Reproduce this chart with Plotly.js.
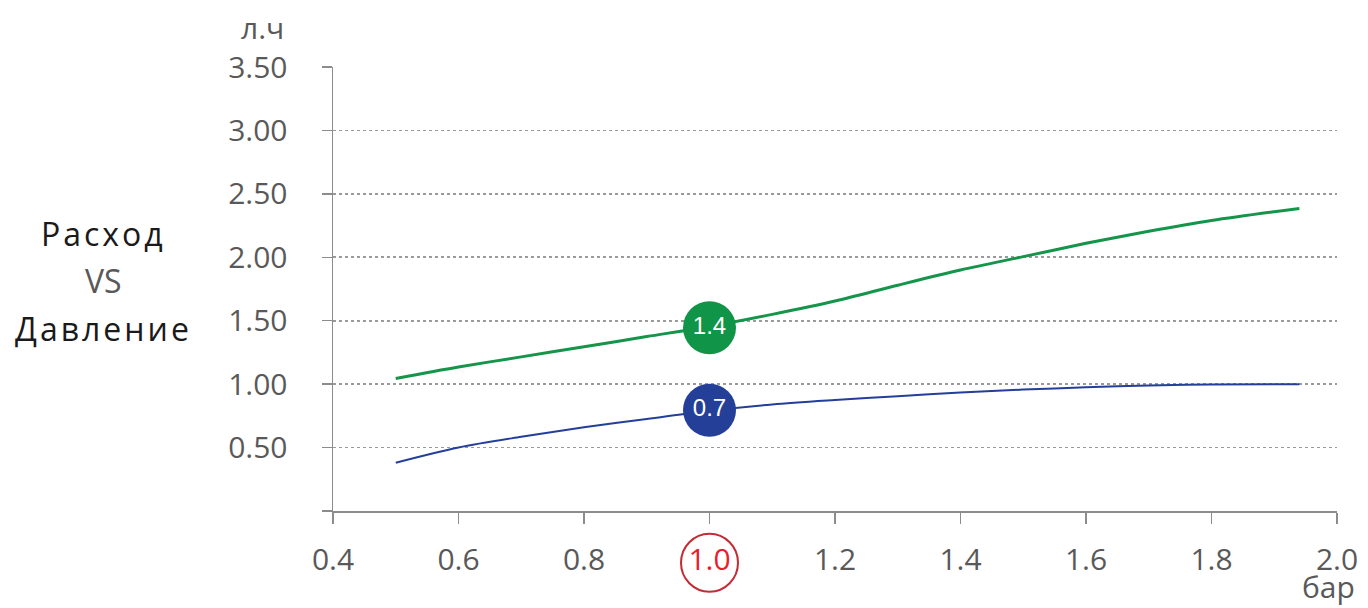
<!DOCTYPE html>
<html>
<head>
<meta charset="utf-8">
<script src="https://cdn.plot.ly/plotly-3.0.1.min.js"></script>
<style>
html,body{margin:0;padding:0;background:#fff;}
#chart{width:1368px;height:608px;}
.annotation[data-index="0"] text, .annotation[data-index="2"] text{letter-spacing:3px;}
</style>
</head>
<body>
<div id="chart"></div>
<script>
// Pressure (бар)
const pressure = [0.5, 0.6, 0.7, 0.8, 0.9, 1.0, 1.1, 1.2, 1.3, 1.4, 1.5, 1.6, 1.7, 1.8, 1.94];
// Flow, green series (л.ч)
const flowGreen = [1.045, 1.135, 1.215, 1.295, 1.375, 1.455, 1.55, 1.655, 1.78, 1.9, 2.005, 2.11, 2.205, 2.29, 2.385];
// Flow, blue series (л.ч)
const flowBlue = [0.38, 0.50, 0.585, 0.66, 0.725, 0.79, 0.84, 0.875, 0.905, 0.935, 0.957, 0.975, 0.99, 0.998, 1.0];

// Highlighted points at 1.0 бар
const markPressure = [1.0];
const markGreen = [1.445];
const markBlue = [0.795];
const markGreenLabel = ["1.4"];
const markBlueLabel = ["0.7"];

// Axis ticks
const xTickVals = [0.4, 0.6, 0.8, 1.0, 1.2, 1.4, 1.6, 1.8, 2.0];
const xTickText = ["0.4", "0.6", "0.8", '<span style="color:#E8202A">1.0</span>', "1.2", "1.4", "1.6", "1.8", "2.0"];
const yTickVals = [0, 0.5, 1.0, 1.5, 2.0, 2.5, 3.0, 3.5];
const yTickText = ["", "0.50", "1.00", "1.50", "2.00", "2.50", "3.00", "3.50"];

const traces = [
  {x: pressure, y: flowGreen, type: 'scatter', mode: 'lines',
   line: {color: '#14954A', width: 3, shape: 'spline', smoothing: 0.9}},
  {x: pressure, y: flowBlue, type: 'scatter', mode: 'lines',
   line: {color: '#233F99', width: 2, shape: 'spline', smoothing: 0.9}},
  {x: markPressure, y: markGreen, type: 'scatter', mode: 'markers+text',
   text: markGreenLabel, textposition: 'middle center',
   textfont: {family: 'Liberation Sans, Arial, sans-serif', size: 24, color: '#ffffff'},
   marker: {size: 53, color: '#109447', line: {width: 0}}},
  {x: markPressure, y: markBlue, type: 'scatter', mode: 'markers+text',
   text: markBlueLabel, textposition: 'middle center',
   textfont: {family: 'Liberation Sans, Arial, sans-serif', size: 24, color: '#ffffff'},
   marker: {size: 53, color: '#233F98', line: {width: 0}}}
];

const tickFont = {family: 'Open Sans, sans-serif', size: 30, color: '#595959'};

const layout = {
  width: 1368, height: 608,
  margin: {l: 333, r: 31, t: 67, b: 97},
  paper_bgcolor: '#ffffff', plot_bgcolor: '#ffffff',
  showlegend: false, hovermode: false,
  xaxis: {
    range: [0.4, 2.0], tickmode: 'array', tickvals: xTickVals, ticktext: xTickText,
    ticks: 'outside', ticklen: 11, tickwidth: 1.5, tickcolor: '#8c8c8c',
    showline: true, linecolor: '#8c8c8c', linewidth: 1.5,
    showgrid: false, zeroline: false, tickfont: tickFont, ticklabelstandoff: 10
  },
  yaxis: {
    range: [0, 3.5], tickmode: 'array', tickvals: yTickVals, ticktext: yTickText,
    ticks: 'outside', ticklen: 10, tickwidth: 1.5, tickcolor: '#8c8c8c',
    showline: true, linecolor: '#8c8c8c', linewidth: 1.5,
    showgrid: true, gridcolor: '#9a9a9a', gridwidth: 1.8, griddash: 'dot',
    zeroline: false, tickfont: tickFont, ticklabelstandoff: 28
  },
  shapes: [
    {type: 'circle', xref: 'x', yref: 'paper', xsizemode: 'pixel', ysizemode: 'pixel',
     xanchor: 1.0, yanchor: -0.1164, x0: -28.5, x1: 28.5, y0: -29, y1: 29,
     line: {color: '#C42B35', width: 2}}
  ],
  annotations: [
    {text: 'Расход', xref: 'paper', yref: 'paper', x: -0.2285, y: 0.625, xanchor: 'center', yanchor: 'middle',
     showarrow: false, font: {family: 'Open Sans, sans-serif', size: 32, color: '#1a1a1a'}},
    {text: 'VS', xref: 'paper', yref: 'paper', x: -0.2285, y: 0.519, xanchor: 'center', yanchor: 'middle',
     showarrow: false, font: {family: 'Open Sans, sans-serif', size: 32, color: '#595959'}},
    {text: 'Давление', xref: 'paper', yref: 'paper', x: -0.2285, y: 0.412, xanchor: 'center', yanchor: 'middle',
     showarrow: false, font: {family: 'Open Sans, sans-serif', size: 32, color: '#1a1a1a'}},
    {text: 'л.ч', xref: 'paper', yref: 'paper', x: -0.0707, y: 1.088, xanchor: 'center', yanchor: 'middle',
     showarrow: false, font: {family: 'Open Sans, sans-serif', size: 30, color: '#595959'}},
    {text: 'бар', xref: 'paper', yref: 'paper', x: 0.9915, y: -0.171, xanchor: 'center', yanchor: 'middle',
     showarrow: false, font: {family: 'Open Sans, sans-serif', size: 30, color: '#595959'}}
  ]
};

Plotly.newPlot('chart', traces, layout, {staticPlot: true, displayModeBar: false});
</script>
</body>
</html>
